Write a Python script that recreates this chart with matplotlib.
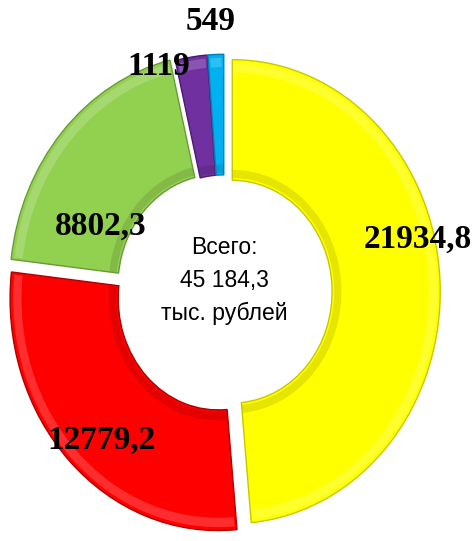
import matplotlib.pyplot as plt
import numpy as np
from matplotlib.patches import Wedge

# данные
values = [21934.8, 12779.2, 8802.3, 1119, 549]
labels = ['21934,8', '12779,2', '8802,3', '1119', '549']
colors = ['#FFFF00', '#FF0000', '#92D050', '#7030A0', '#00B0F0']
edge_colors = ['#C8C800', '#B00000', '#6A9A35', '#4A1A75', '#0080B8']
total_text = 'Всего:\n45 184,3\nтыс. рублей'

# положение подписей: (доля радиуса, сдвиг угла в градусах)
label_place = [(0.96, 11), (0.87, 3), (0.66, 16), (1.02, 9), (1.17, 1)]

fig = plt.figure(figsize=(4.76, 5.41), dpi=100)
ax = fig.add_axes([0, 0, 1, 1])

explode = [0.04, 0.04, 0.04, 0.025, 0.025]
wedges, _ = ax.pie(values, colors=colors, startangle=90, counterclock=False,
                   explode=explode, radius=1.0,
                   wedgeprops=dict(width=0.52, linewidth=1.0))
for w, ec in zip(wedges, edge_colors):
    w.set_edgecolor(ec)

# объём: светлая фаска снаружи, тень у внутреннего края
for w in wedges:
    cx, cy = w.center
    ax.add_patch(Wedge((cx, cy), 0.985, w.theta1 + 0.6, w.theta2 - 0.6, width=0.04,
                       facecolor='white', alpha=0.18, edgecolor='none'))
    ax.add_patch(Wedge((cx, cy), 0.525, w.theta1 + 0.3, w.theta2 - 0.3, width=0.035,
                       facecolor='black', alpha=0.10, edgecolor='none'))

ax.set_aspect('auto')
ax.set_xlim(-1.077, 1.212)
ax.set_ylim(-1.073, 1.259)
ax.axis('off')

for w, lab, (r, da) in zip(wedges, labels, label_place):
    mid = np.deg2rad((w.theta1 + w.theta2) / 2 + da)
    ax.text(r * np.cos(mid), r * np.sin(mid), lab, ha='center', va='center',
            fontsize=24, fontweight='bold', family='Liberation Serif', color='black')

ax.text(0.0, 0.05, total_text, ha='center', va='center', fontsize=16.5,
        family='Liberation Sans', linespacing=1.55, color='black')

fig.savefig('out.png', dpi=100)
